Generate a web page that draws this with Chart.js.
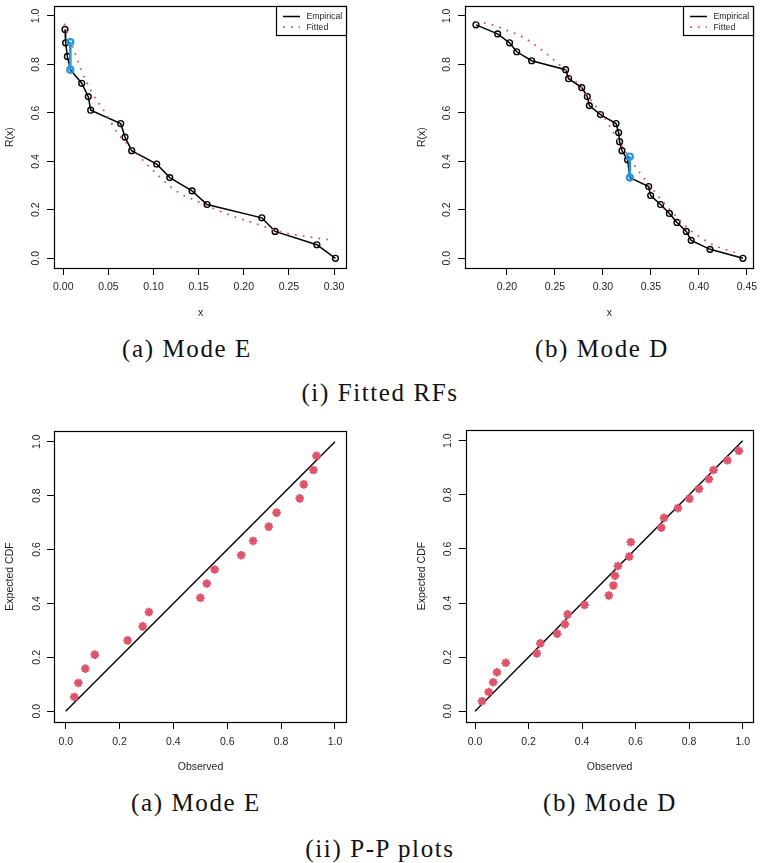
<!DOCTYPE html>
<html>
<head>
<meta charset="utf-8">
<script src="https://cdn.jsdelivr.net/npm/chart.js@4.4.1/dist/chart.umd.min.js"></script>
<style>
html,body{margin:0;padding:0;background:#fff;}
body{width:760px;height:863px;position:relative;overflow:hidden;}
canvas{position:absolute;}
.cap{position:absolute;font-family:"Liberation Serif","Times New Roman",serif;font-size:25px;color:#111;white-space:nowrap;transform:translate(-50%,-50%);letter-spacing:1.6px;line-height:1;}
</style>
</head>
<body>
<canvas id="c1" width="380" height="330" style="left:0;top:0"></canvas>
<canvas id="c2" width="380" height="330" style="left:380px;top:0"></canvas>
<canvas id="c3" width="380" height="360" style="left:0;top:420px"></canvas>
<canvas id="c4" width="380" height="360" style="left:380px;top:420px"></canvas>
<div class="cap" id="capA1" style="left:187px;top:348px"></div>
<div class="cap" id="capB1" style="left:602px;top:348px"></div>
<div class="cap" id="capI" style="left:380px;top:392px"></div>
<div class="cap" id="capA2" style="left:196px;top:802px"></div>
<div class="cap" id="capB2" style="left:610px;top:802px"></div>
<div class="cap" id="capII" style="left:380px;top:848px"></div>
<script>
// ---------------- DATA ----------------
// (i)(a) Mode E : empirical reliability function
const modeE_x = [0.0019, 0.0026, 0.0045, 0.0078, 0.0204, 0.0277, 0.0304, 0.0636, 0.0684, 0.0758, 0.1035, 0.1180, 0.1427, 0.1593, 0.2200, 0.2347, 0.2810, 0.3016];
const modeE_R = [0.944, 0.889, 0.833, 0.778, 0.722, 0.667, 0.611, 0.556, 0.500, 0.444, 0.389, 0.333, 0.278, 0.222, 0.167, 0.111, 0.056, 0.000];
// tied observation (blue)
const modeE_tieX = [0.0078, 0.0078];
const modeE_tieR = [0.892, 0.778];
// fitted reliability function
const modeE_fitX = [0.0010, 0.0137, 0.0196, 0.0318, 0.0466, 0.0606, 0.0740, 0.0980, 0.1230, 0.1515, 0.1848, 0.2106, 0.2440, 0.2770, 0.2987];
const modeE_fitR = [0.968, 0.840, 0.777, 0.684, 0.600, 0.515, 0.460, 0.368, 0.283, 0.230, 0.178, 0.146, 0.106, 0.086, 0.074];

// (i)(b) Mode D
const modeD_x = [0.1678, 0.1904, 0.2028, 0.2103, 0.2258, 0.2612, 0.2643, 0.2780, 0.2838, 0.2859, 0.2975, 0.3137, 0.3164, 0.3174, 0.3199, 0.3257, 0.3281, 0.3477, 0.3498, 0.3601, 0.3693, 0.3772, 0.3869, 0.3920, 0.4116, 0.4459];
const modeD_R = [0.963, 0.926, 0.889, 0.852, 0.815, 0.778, 0.741, 0.704, 0.667, 0.630, 0.593, 0.556, 0.519, 0.481, 0.444, 0.407, 0.333, 0.296, 0.259, 0.222, 0.185, 0.148, 0.111, 0.074, 0.037, 0.000];
const modeD_tieX = [0.3281, 0.3281];
const modeD_tieR = [0.420, 0.333];
const modeD_fitX = [0.1679, 0.1800, 0.1900, 0.2000, 0.2100, 0.2200, 0.2300, 0.2400, 0.2500, 0.2600, 0.2700, 0.2800, 0.2900, 0.3000, 0.3100, 0.3200, 0.3300, 0.3400, 0.3500, 0.3600, 0.3700, 0.3800, 0.3900, 0.4000, 0.4100, 0.4200, 0.4300, 0.4400];
const modeD_fitR = [0.975, 0.968, 0.956, 0.940, 0.925, 0.905, 0.878, 0.848, 0.815, 0.779, 0.737, 0.690, 0.640, 0.590, 0.525, 0.462, 0.400, 0.345, 0.295, 0.245, 0.200, 0.157, 0.120, 0.090, 0.066, 0.047, 0.033, 0.021];

// (ii)(a) P-P plot Mode E
const ppE_observed = [0.032, 0.047, 0.073, 0.108, 0.230, 0.286, 0.309, 0.500, 0.524, 0.553, 0.652, 0.696, 0.754, 0.783, 0.869, 0.884, 0.920, 0.931];
const ppE_expected = [0.053, 0.105, 0.158, 0.210, 0.263, 0.315, 0.368, 0.421, 0.474, 0.526, 0.579, 0.632, 0.685, 0.737, 0.790, 0.842, 0.895, 0.948];
// (ii)(b) P-P plot Mode D
const ppD_observed = [0.026, 0.051, 0.068, 0.082, 0.115, 0.231, 0.244, 0.307, 0.336, 0.346, 0.409, 0.500, 0.517, 0.523, 0.534, 0.576, 0.582, 0.696, 0.706, 0.758, 0.801, 0.837, 0.874, 0.891, 0.943, 0.986];
const ppD_expected = [0.037, 0.071, 0.107, 0.144, 0.179, 0.214, 0.251, 0.287, 0.322, 0.358, 0.393, 0.428, 0.465, 0.501, 0.537, 0.572, 0.625, 0.679, 0.715, 0.751, 0.786, 0.822, 0.858, 0.892, 0.928, 0.963];
// 45-degree reference line
const refX = [0, 1];
const refY = [0, 1];

// tick values
const ticksE_x = [0.00, 0.05, 0.10, 0.15, 0.20, 0.25, 0.30];
const ticksD_x = [0.20, 0.25, 0.30, 0.35, 0.40, 0.45];
const ticksUnit = [0.0, 0.2, 0.4, 0.6, 0.8, 1.0];

// texts
const legendLabels = ['Empirical', 'Fitted'];
const rfXTitle = 'x', rfYTitle = 'R(x)';
const ppXTitle = 'Observed', ppYTitle = 'Expected CDF';
const captions = { capA1: '(a) Mode E', capB1: '(b) Mode D', capI: '(i) Fitted RFs', capA2: '(a) Mode E', capB2: '(b) Mode D', capII: '(ii) P-P plots' };

// ---------------- STYLE / HELPERS ----------------
const FONT = '"Liberation Sans", Arial, Helvetica, sans-serif';
const TXT = '#1e1e1e';
const PINK = '#DF536B';
const BLUE = '#2297E6';
const zip = (xs, ys) => xs.map((x, i) => ({ x: x, y: ys[i] }));

for (const k in captions) document.getElementById(k).textContent = captions[k];

function xAxis(o) {
  return {
    type: 'linear', position: 'bottom', min: o.min, max: o.max,
    afterBuildTicks: s => { s.ticks = o.ticks.map(v => ({ value: v })); },
    afterFit: s => { s.height = o.height; s.paddingLeft = 0; s.paddingRight = 0; },
    border: { display: false },
    grid: { display: true, drawOnChartArea: false, drawTicks: true, tickLength: 7, color: '#000', lineWidth: 1 },
    ticks: { autoSkip: false, minRotation: 0, maxRotation: 0, padding: o.tickPad, color: TXT,
      font: { family: FONT, size: 10.5 }, callback: v => Number(v).toFixed(o.dec) },
    title: { display: true, text: o.title, color: TXT, font: { family: FONT, size: 10.5 },
      padding: { top: 0, bottom: o.titlePad } }
  };
}
function yAxis(o) {
  return {
    type: 'linear', position: 'left', min: o.min, max: o.max,
    afterBuildTicks: s => { s.ticks = o.ticks.map(v => ({ value: v })); },
    afterFit: s => { s.width = 54; s.paddingTop = 0; s.paddingBottom = 0; },
    border: { display: false },
    grid: { display: true, drawOnChartArea: false, drawTicks: true, tickLength: 7, color: '#000', lineWidth: 1 },
    ticks: { autoSkip: false, minRotation: 90, maxRotation: 90, crossAlign: 'center', padding: o.tickPad, color: TXT,
      font: { family: FONT, size: 10.5 }, callback: v => Number(v).toFixed(1) },
    title: { display: true, text: o.title, color: TXT, font: { family: FONT, size: 10.5 },
      padding: { top: o.titlePad, bottom: 0 } }
  };
}

const boxPlugin = {
  id: 'rbox',
  afterDatasetsDraw(chart) {
    const a = chart.chartArea, c = chart.ctx;
    c.save();
    c.strokeStyle = '#000'; c.lineWidth = 1.2;
    c.strokeRect(Math.round(a.left) + 0.5, Math.round(a.top) + 0.5, Math.round(a.right - a.left) - 1, Math.round(a.bottom - a.top));
    c.restore();
  }
};

function legendPlugin(labels) {
  return {
    id: 'rlegend',
    afterDatasetsDraw(chart) {
      const a = chart.chartArea, c = chart.ctx;
      const w = 71, h = 30, x0 = Math.round(a.right) - w, y0 = Math.round(a.top);
      c.save();
      c.fillStyle = '#fff'; c.fillRect(x0, y0, w, h);
      c.strokeStyle = '#000'; c.lineWidth = 1.2; c.strokeRect(x0 + 0.5, y0 + 0.5, w - 1, h - 1);
      labels.forEach((lab, i) => {
        const ds = chart.data.datasets[i];
        const y = y0 + 10.5 + i * 10.7;
        c.beginPath();
        c.setLineDash(ds.borderDash || []);
        c.strokeStyle = ds.borderColor; c.lineWidth = ds.borderWidth;
        c.moveTo(x0 + 7, y); c.lineTo(x0 + 24, y); c.stroke();
        c.setLineDash([]);
        c.fillStyle = TXT; c.font = '8.7px ' + FONT; c.textBaseline = 'middle'; c.textAlign = 'left';
        c.fillText(lab, x0 + 30.5, y);
      });
      c.restore();
    }
  };
}

function rfDatasets(x, r, tx, tr, fx, fr) {
  return [
    { label: legendLabels[0], data: zip(x, r), showLine: true, borderColor: '#000', borderWidth: 1.5,
      pointStyle: 'circle', pointRadius: 2.9, pointBorderWidth: 1.4, pointBorderColor: '#000',
      pointBackgroundColor: 'rgba(0,0,0,0)', order: 3 },
    { label: legendLabels[1], data: zip(fx, fr), showLine: true, borderColor: PINK, borderWidth: 1.8,
      borderDash: [1.8, 6.1], borderCapStyle: 'butt', pointRadius: 0, cubicInterpolationMode: 'monotone', order: 2 },
    { label: 'tie', data: zip(tx, tr), showLine: true, borderColor: BLUE, borderWidth: 2.6,
      pointStyle: 'circle', pointRadius: 3, pointBorderWidth: 2.2, pointBorderColor: BLUE,
      pointBackgroundColor: 'rgba(0,0,0,0)', order: 1 }
  ];
}
function ppDatasets(obs, exp) {
  return [
    { label: 'ref', data: zip(refX, refY), showLine: true, borderColor: '#000', borderWidth: 1.4, pointRadius: 0, order: 2 },
    { label: 'pp', data: zip(obs, exp), showLine: false, pointStyle: 'star', pointRadius: 4.3,
      pointBorderWidth: 2.3, pointBorderColor: PINK, pointBackgroundColor: PINK, order: 1 }
  ];
}

function makeChart(id, datasets, pad, xo, yo, extraPlugins) {
  return new Chart(document.getElementById(id), {
    type: 'scatter',
    data: { datasets: datasets },
    options: {
      responsive: false, animation: false, devicePixelRatio: 1, events: [],
      layout: { padding: pad },
      plugins: { legend: { display: false }, tooltip: { enabled: false } },
      scales: { x: xAxis(xo), y: yAxis(yo) }
    },
    plugins: [boxPlugin].concat(extraPlugins || [])
  });
}

// (i)(a)
makeChart('c1', rfDatasets(modeE_x, modeE_R, modeE_tieX, modeE_tieR, modeE_fitX, modeE_fitR),
  { left: 0, top: 5, right: 33, bottom: 0 },
  { min: -0.0103, max: 0.3144, ticks: ticksE_x, dec: 2, height: 62, tickPad: 6, title: rfXTitle, titlePad: 11 },
  { min: -0.04, max: 1.04, ticks: ticksUnit, tickPad: 4, title: rfYTitle, titlePad: 4.2 },
  [legendPlugin(legendLabels)]);
// (i)(b)
makeChart('c2', rfDatasets(modeD_x, modeD_R, modeD_tieX, modeD_tieR, modeD_fitX, modeD_fitR),
  { left: 31, top: 5, right: 3, bottom: 0 },
  { min: 0.1564, max: 0.4572, ticks: ticksD_x, dec: 2, height: 62, tickPad: 6, title: rfXTitle, titlePad: 11 },
  { min: -0.04, max: 1.04, ticks: ticksUnit, tickPad: 4, title: rfYTitle, titlePad: 4.4 },
  [legendPlugin(legendLabels)]);
// (ii)(a)
makeChart('c3', ppDatasets(ppE_observed, ppE_expected),
  { left: 0, top: 11, right: 33, bottom: 0 },
  { min: -0.0434, max: 1.0446, ticks: ticksUnit, dec: 1, height: 58, tickPad: 7, title: ppXTitle, titlePad: 7 },
  { min: -0.04, max: 1.04, ticks: ticksUnit, tickPad: 3, title: ppYTitle, titlePad: 3.7 });
// (ii)(b)
makeChart('c4', ppDatasets(ppD_observed, ppD_expected),
  { left: 31.7, top: 10, right: 3.3, bottom: 0 },
  { min: -0.0348, max: 1.0400, ticks: ticksUnit, dec: 1, height: 58, tickPad: 7, title: ppXTitle, titlePad: 7 },
  { min: -0.04, max: 1.04, ticks: ticksUnit, tickPad: 3, title: ppYTitle, titlePad: 3.7 });
</script>
</body>
</html>
